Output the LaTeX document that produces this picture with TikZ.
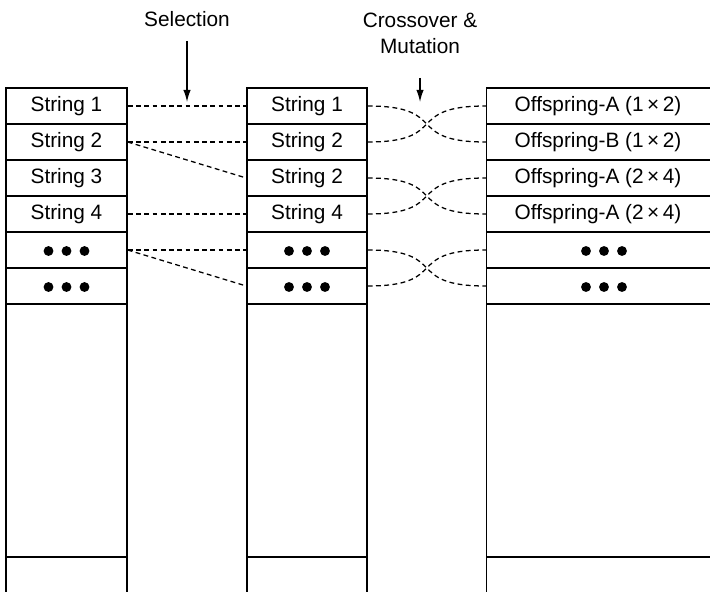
\documentclass[tikz,border=0pt]{standalone}
\usepackage{fontspec}
\setmainfont{Liberation Sans}
\usetikzlibrary{arrows.meta,calc}
\begin{document}
\begin{tikzpicture}[x=0.75pt,y=-0.75pt,
  txt/.style={font=\fontsize{15.6}{19.5}\selectfont},
  cell/.style={draw,line width=1.1pt,rectangle,inner sep=0pt,minimum height=27pt,txt},
  cA/.style={cell,minimum width=90.75pt},
  cB/.style={cell,minimum width=90pt},
  cC/.style={cell,minimum width=176.25pt},
  link/.style={line width=0.95pt,dash pattern=on 3.6pt off 2.6pt},
  arr/.style={line width=0.9pt,-{Latex[length=9pt,width=5.5pt]}},
  dot/.style={fill=black}]
\useasboundingbox (0,0) rectangle (710,592);
\clip (0,0) rectangle (710,592);
% column 1
\node[cA] (a1) at (66.5,106) {String 1};
\node[cA] (a2) at (66.5,142) {String 2};
\node[cA] (a3) at (66.5,178) {String 3};
\node[cA] (a4) at (66.5,214) {String 4};
\node[cA] (a5) at (66.5,250) {};
\node[cA] (a6) at (66.5,286) {};
\node[cA,minimum height=189.75pt] (a7) at (66.5,430.5) {};
\node[cA,minimum height=32.25pt] (a8) at (66.5,578.5) {};
% column 2
\node[cB] (b1) at (307,106) {String 1};
\node[cB] (b2) at (307,142) {String 2};
\node[cB] (b3) at (307,178) {String 2};
\node[cB] (b4) at (307,214) {String 4};
\node[cB] (b5) at (307,250) {};
\node[cB] (b6) at (307,286) {};
\node[cB,minimum height=189.75pt] (b7) at (307,430.5) {};
\node[cB,minimum height=32.25pt] (b8) at (307,578.5) {};
% column 3
\node[cC] (c1) at (604,106) {\hspace*{-9pt}Offspring-A (1\,×\,2)};
\node[cC] (c2) at (604,142) {\hspace*{-9pt}Offspring-B (1\,×\,2)};
\node[cC] (c3) at (604,178) {\hspace*{-9pt}Offspring-A (2\,×\,4)};
\node[cC] (c4) at (604,214) {\hspace*{-9pt}Offspring-A (2\,×\,4)};
\node[cC] (c5) at (604,250) {};
\node[cC] (c6) at (604,286) {};
\node[cC,minimum height=189.75pt] (c7) at (604,430.5) {};
\node[cC,minimum height=32.25pt] (c8) at (604,578.5) {};
% dots
\foreach \n in {a5,a6,b5,b6,c5,c6}{
  \foreach \dx in {-18,0,18}{
    \fill[dot] ($(\n.center)+(\dx,1)$) circle (3.7pt);
  }
}
% selection links
\draw[link] (a1.east) -- (b1.west);
\draw[link] (a2.east) -- (b2.west);
\draw[link] (a2.east) -- (b3.west);
\draw[link] (a4.east) -- (b4.west);
\draw[link] (a5.east) -- (b5.west);
\draw[link] (a5.east) -- (b6.west);
% crossover links
\foreach \u/\v/\p/\q in {b1/b2/c1/c2,b3/b4/c3/c4,b5/b6/c5/c6}{
  \draw[link] (\u.east) to[out=0,in=180,looseness=1.7] (\q.west);
  \draw[link] (\v.east) to[out=0,in=180,looseness=1.7] (\p.west);
}
% labels and arrows
\node[txt] (sel) at (187,19) {Selection};
\coordinate (selA) at (187,41);
\coordinate (selB) at (187,102);
\draw[arr] (selA) -- (selB);
\node[txt,align=center] (cm) at (420,33) {Crossover \&\\Mutation};
\coordinate (cmA) at (420,78);
\coordinate (cmB) at (420,102);
\draw[arr] (cmA) -- (cmB);
\end{tikzpicture}
\end{document}
